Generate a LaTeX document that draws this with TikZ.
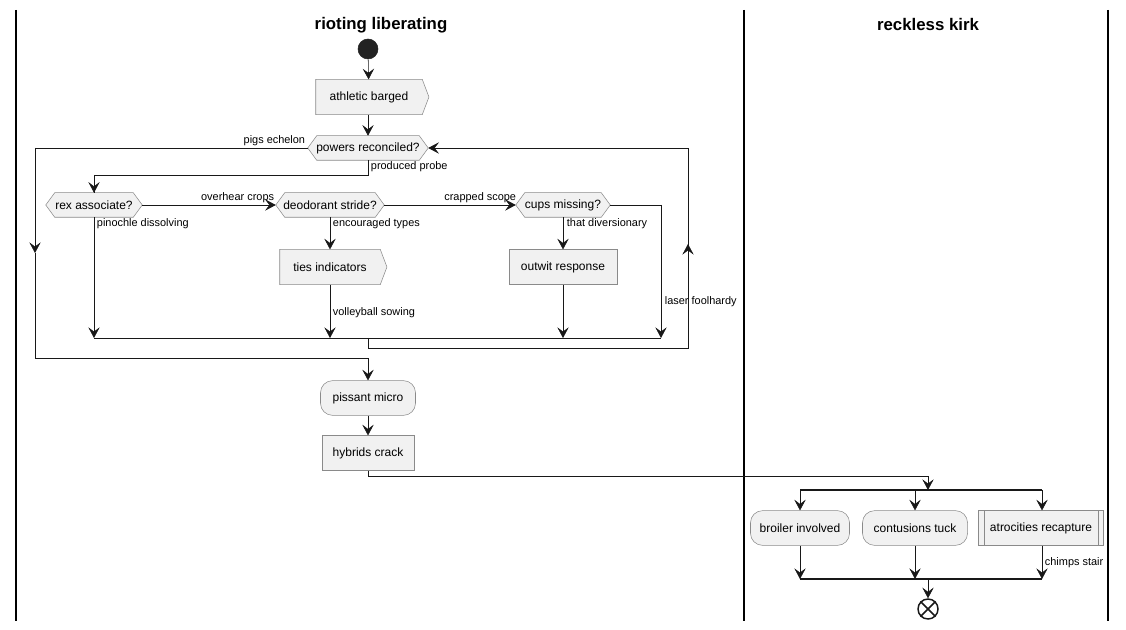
\documentclass[tikz,border=0pt]{standalone}
\usepackage{fontspec}
\setmainfont{Liberation Sans}
\usetikzlibrary{arrows.meta,calc}
\pgfdeclarelayer{back}
\pgfdeclarelayer{bg}
\pgfsetlayers{back,bg,main}
\definecolor{boxfill}{HTML}{F1F1F1}
\definecolor{boxedge}{HTML}{8A8A8A}
\definecolor{boxline}{HTML}{181818}
\definecolor{dotfill}{HTML}{222222}

% hexagonal decision outline behind a named node
\newcommand\hexbg[1]{%
  \begin{pgfonlayer}{bg}
    \draw[boxedge,fill=boxfill] (#1.west) -- ([xshift=6.75pt]#1.north west) -- ([xshift=-6.75pt]#1.north east)
      -- (#1.east) -- ([xshift=-6.75pt]#1.south east) -- ([xshift=6.75pt]#1.south west) -- cycle;
  \end{pgfonlayer}}
% box with a pointed right side behind a named node
\newcommand\sigbg[1]{%
  \begin{pgfonlayer}{bg}
    \draw[boxedge,fill=boxfill] (#1.north west) -- (#1.north east) -- ([xshift=5pt]#1.east)
      -- (#1.south east) -- (#1.south west) -- cycle;
  \end{pgfonlayer}}

\begin{document}
\begin{tikzpicture}[x=0.75pt,y=-0.75pt,line width=0.75pt,
  flow/.style={draw=boxline,-{Stealth[length=8pt,width=8.5pt,inset=3.2pt]}},
  plain/.style={draw=boxline},
  lane/.style={draw=black,line width=1.1pt},
  bar/.style={draw=boxline,line width=2pt},
  boxtext/.style={font=\fontsize{9}{11}\selectfont,text=black},
  lbl/.style={font=\fontsize{8.2}{10}\selectfont,text=black,inner sep=0.5pt},
  title/.style={font=\fontsize{12.6}{15}\selectfont\bfseries,text=black},
  actbox/.style={boxtext,draw=boxedge,fill=boxfill,inner sep=0pt,minimum height=26pt,minimum width={#1*0.75pt}},
  roundbox/.style={actbox=#1,rounded corners=9pt},
  bodybox/.style={boxtext,inner sep=0pt,minimum height=26pt,minimum width={#1*0.75pt}},
  hexnode/.style={boxtext,inner sep=0pt,minimum height=18pt,minimum width={#1*0.75pt}},
]
\begin{pgfonlayer}{back}
  \fill[white] (0,0) rectangle (1126,630);
\end{pgfonlayer}
\useasboundingbox (0,0) rectangle (1126,630);

% swimlanes
\draw[lane] (16,10) -- (16,621);
\draw[lane] (744,10) -- (744,621);
\draw[lane] (1108,10) -- (1108,621);
\node[title] (t1) at (381,25) {rioting liberating};
\node[title] (t2) at (928,25) {reckless kirk};

% left lane nodes
\node[circle,fill=dotfill,draw=dotfill,minimum size=15pt,inner sep=0pt] (start) at (368,49) {};
\node[bodybox=106] (ab) at (369,97) {athletic barged}; \sigbg{ab}
\node[hexnode=120] (pr) at (368,148) {powers reconciled?}; \hexbg{pr}
\node[hexnode=96] (ra) at (94,205) {rex associate?}; \hexbg{ra}
\node[hexnode=108] (ds) at (330,205) {deodorant stride?}; \hexbg{ds}
\node[hexnode=94] (cm) at (563,205) {cups missing?}; \hexbg{cm}
\node[bodybox=100] (ti) at (330,267) {ties indicators}; \sigbg{ti}
\node[actbox=108] (ow) at (563,267) {outwit response};
\node[roundbox=95] (pm) at (368,398) {pissant micro};
\node[actbox=92] (hc) at (368,453) {hybrids crack};

% right lane nodes
\node[roundbox=99] (bi) at (800,528) {broiler involved};
\node[roundbox=105] (ct) at (915,528) {contusions tuck};
\node[actbox=125] (ar) at (1041,528) {atrocities recapture};
\draw[boxedge] ([xshift=4.5pt]ar.north west) -- ([xshift=4.5pt]ar.south west);
\draw[boxedge] ([xshift=-4.5pt]ar.north east) -- ([xshift=-4.5pt]ar.south east);
\node[circle,draw=boxline,fill=white,line width=1.1pt,minimum size=15pt,inner sep=0pt] (stop) at (928,609) {};
\draw[boxline,line width=1.1pt] (stop.north west) -- (stop.south east);
\draw[boxline,line width=1.1pt] (stop.north east) -- (stop.south west);

% helper coordinates
\coordinate (mergeL) at (94,338);
\coordinate (mergeR) at (661,338);
\coordinate (loopA) at (35,148);
\coordinate (loopM) at (35,253);
\coordinate (loopB) at (35,358);
\coordinate (backA) at (368,348);
\coordinate (backB) at (688,348);
\coordinate (backM) at (688,244);
\coordinate (backC) at (688,148);
\coordinate (split) at (368,175);
\coordinate (cmR) at (661,205);
\coordinate (hcTurn) at (368,476);
\coordinate (forkL) at (800,490);
\coordinate (forkR) at (1042,490);
\coordinate (joinL) at (800,579);
\coordinate (joinR) at (1042,579);

% main flow
\draw[flow] (start) -- (ab);
\draw[flow] (ab.south -| pr.north) -- (pr.north);
\draw[plain] (pr.south) -- (split) -| (ra.north);
\draw[flow] (split -| ra.north) -- (ra.north);
\node[lbl,anchor=west] (lpp) at (370,167) {produced probe};

\draw[flow] (ra.east) -- (ds.west);
\node[lbl,anchor=east] (loc) at (275,198) {overhear crops};
\draw[flow] (ds.east) -- (cm.west);
\node[lbl,anchor=east] (lcs) at (517,198) {crapped scope};

\draw[flow] (ra.south) -- (ra.south |- mergeL);
\node[lbl,anchor=west] (lpd) at (96,224) {pinochle dissolving};
\draw[flow] (ds.south) -- (ti.north);
\node[lbl,anchor=west] (let) at (332,224) {encouraged types};
\draw[flow] (ti.south) -- (ti.south |- mergeL);
\node[lbl,anchor=west] (lvs) at (332,313) {volleyball sowing};
\draw[flow] (cm.south) -- (ow.north);
\node[lbl,anchor=west] (ltd) at (566,224) {that diversionary};
\draw[flow] (ow.south) -- (ow.south |- mergeL);
\draw[plain] (cm.east) -- (cmR);
\draw[flow] (cmR) -- (mergeR);
\node[lbl,anchor=west] (llf) at (664,302) {laser foolhardy};
\draw[plain] (mergeL) -- (mergeR);

% loop back to the decision
\draw[plain] (backA |- mergeL) -- (backA) -- (backB) -- (backM);
\draw[flow] (backB) -- (backM);
\draw[plain] (backM) -- (backC);
\draw[flow] (backC) -- (pr.east);

% exit of the loop
\draw[plain] (pr.west) -- (loopA);
\draw[flow] (loopA) -- (loopM);
\draw[plain] (loopM) -- (loopB) -- (loopB -| pm.north);
\draw[flow] (loopB -| pm.north) -- (pm.north);
\node[lbl,anchor=east] (lpe) at (306,141) {pigs echelon};

\draw[flow] (pm) -- (hc);
\draw[plain] (hc.south) -- (hcTurn) -- (hcTurn -| stop.north);
\draw[flow] (hcTurn -| stop.north) -- (stop.north |- forkL);

% fork and join
\draw[bar] (forkL) -- (forkR);
\draw[flow] (forkL) -- (bi.north);
\draw[flow] (forkL -| ct.north) -- (ct.north);
\draw[flow] (forkR) -- (forkR |- ar.north);
\draw[flow] (bi.south) -- (joinL);
\draw[flow] (ct.south) -- (ct.south |- joinL);
\draw[flow] (forkR |- ar.south) -- (joinR);
\node[lbl,anchor=west] (lchs) at (1044,563) {chimps stair};
\draw[bar] (joinL) -- (joinR);
\draw[flow] (stop.north |- joinL) -- (stop.north);
\end{tikzpicture}
\end{document}
